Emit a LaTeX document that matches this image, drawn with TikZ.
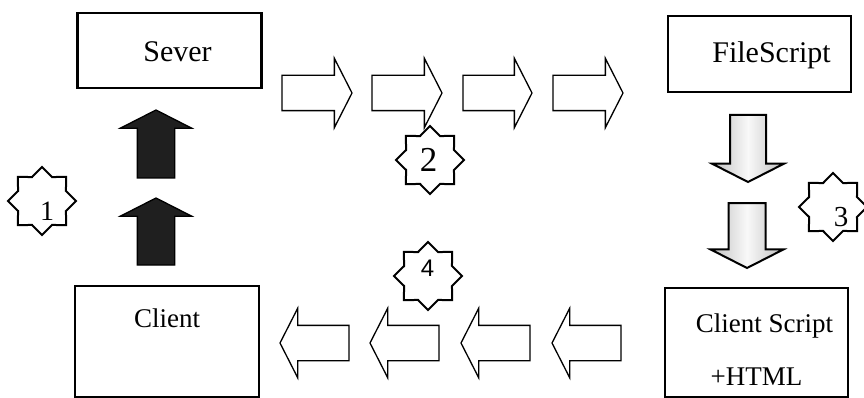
\documentclass[tikz,border=0pt]{standalone}
\usepackage{fontspec}
\setmainfont{Liberation Serif}
\newfontfamily\sansnum{Liberation Sans}
\usetikzlibrary{shapes.geometric,shapes.arrows}

\begin{document}
\begin{tikzpicture}[
  x=1pt,
  y=-1pt,
  box/.style={
    rectangle,
    draw=black,
    line width=2.4pt,
    fill=white,
    inner sep=0pt,
    minimum width=184pt,
    font=\fontsize{30}{34}\selectfont
  },
  burst/.style={
    star,
    star points=8,
    star point ratio=1.31,
    draw=black,
    line width=2pt,
    fill=white,
    inner sep=0pt,
    minimum size=68pt
  },
  num/.style={
    inner sep=0pt,
    font=\fontsize{28}{30}\selectfont
  },
  blockarrow/.style={
    single arrow,
    draw=black,
    line width=1.3pt,
    inner sep=0pt,
    outer sep=0pt,
    single arrow head extend=17pt,
    single arrow tip angle=126,
    single arrow head indent=0pt,
    minimum height=69pt,
    anchor=tail
  },
  hollowarrow/.style={blockarrow, fill=white},
  blackarrow/.style={blockarrow, fill=black!88, rotate=90},
  greyarrow/.style={
    blockarrow,
    line width=2pt,
    rotate=-90,
    left color=gray!50,
    right color=gray!50,
    middle color=gray!5
  }
]
\useasboundingbox (0,0) rectangle (864,398);
\clip (0,0) rectangle (864,398);

% the four boxes
\node[box, minimum height=75pt, text height=49pt, text depth=26pt] (server) at (169.5,50.5) {\hspace*{16pt}Sever};
\node[box, minimum width=183pt, minimum height=76pt, text height=47pt, text depth=29pt] (filescript) at (759.5,54) {\hspace*{24pt}FileScript};
\node[box, minimum height=111pt, text height=41pt, text depth=70pt, font=\fontsize{27}{31}\selectfont] (client) at (167,341.5) {Client};
\node[box, minimum width=183pt, minimum height=109pt, text height=44pt, text depth=65pt, font=\fontsize{27}{31}\selectfont] (clientscript) at (756.5,342.5)
  {\parbox[t]{180pt}{\centering\hspace*{16pt}Client Script\\[22pt] +HTML}};

% step 1: client up to server
\node[blackarrow, minimum height=67pt, single arrow head extend=17pt] (up2) at (156,265) {\rule{0pt}{36pt}};
\node[blackarrow, minimum height=68pt, single arrow head extend=17pt] (up1) at (156,178) {\rule{0pt}{36pt}};

% step 2: server to filescript
\node[hollowarrow, minimum height=70pt] (fwd1) at (282,93) {\rule{0pt}{34pt}};
\node[hollowarrow, minimum height=70pt] (fwd2) at (372,93) {\rule{0pt}{34pt}};
\node[hollowarrow] (fwd3) at (463,93) {\rule{0pt}{34pt}};
\node[hollowarrow, minimum height=70pt] (fwd4) at (553,93) {\rule{0pt}{34pt}};

% step 3: filescript down to client script
\node[greyarrow, minimum height=67pt, single arrow head extend=18pt] (down1) at (748,115) {\rule{0pt}{34pt}};
\node[greyarrow, minimum height=65pt, single arrow head extend=18pt] (down2) at (747,203) {\rule{0pt}{35pt}};

% step 4: client script back to client
\node[hollowarrow, rotate=180] (back1) at (621,343) {\rule{0pt}{34pt}};
\node[hollowarrow, rotate=180] (back2) at (530,343) {\rule{0pt}{34pt}};
\node[hollowarrow, rotate=180] (back3) at (439,343) {\rule{0pt}{34pt}};
\node[hollowarrow, rotate=180] (back4) at (349,343) {\rule{0pt}{34pt}};

% numbered stars
\node[burst] (s1) at (42,201) {};
\node[num] (n1) at (47,211.5) {1};
\node[burst] (s2) at (430,160) {};
\node[num, font=\fontsize{35}{37}\selectfont] (n2) at (428.5,160) {2};
\node[burst] (s3) at (833,207) {};
\node[num, font=\fontsize{29}{31}\selectfont] (n3) at (841,217) {3};
\node[burst] (s4) at (428,276) {};
\node[num, font=\sansnum\fontsize{24}{26}\selectfont] (n4) at (427.5,268.5) {4};

\end{tikzpicture}
\end{document}
